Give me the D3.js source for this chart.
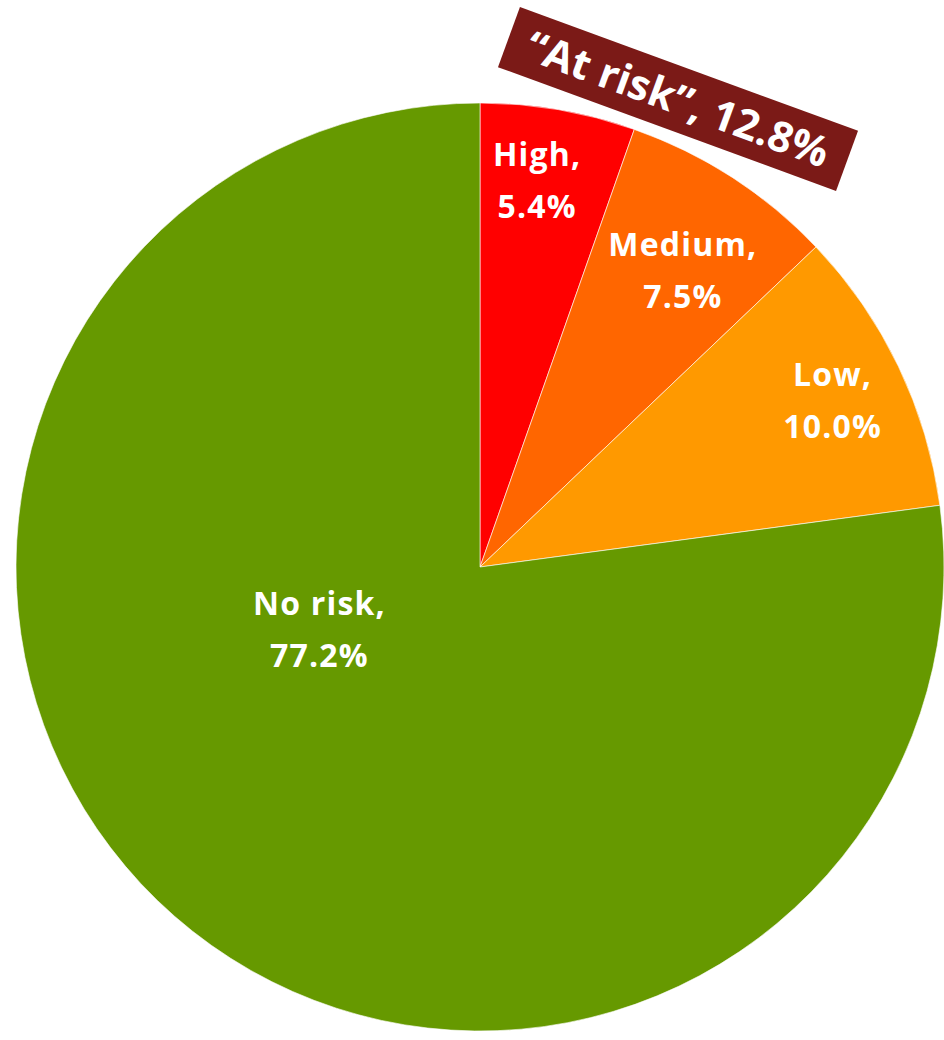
<!DOCTYPE html>
<html>
<head>
  <meta charset="utf-8">
  <title>Risk pie</title>
  <script src="https://cdn.jsdelivr.net/npm/d3@7"></script>
  <style>
    html, body { margin: 0; padding: 0; background: #fff; }
    svg text { font-family: "Open Sans", sans-serif; fill: #fff; }
  </style>
</head>
<body>
  <div id="chart"></div>
  <script>
    // data
    const categories = ["High", "Medium", "Low", "No risk"];
    const values = [5.4, 7.5, 10.0, 77.2];
    const colors = ["#ff0000", "#ff6600", "#ff9900", "#669900"];
    const calloutText = "\u201cAt risk\u201d, 12.8%";

    // label placement (radius px, angle deg clockwise from 12 o'clock)
    const labelPolar = [[391, 8.4], [360, 34.3], [390, 64.7], [172, 249]];

    const width = 944, height = 1040;
    const cx = 480, cy = 567, radius = 464;

    const svg = d3.select("#chart").append("svg")
        .attr("width", width)
        .attr("height", height);

    const pie = d3.pie().sort(null).value(d => d.v);
    const arcs = pie(categories.map((c, i) => ({ name: c, v: values[i], color: colors[i] })));
    const arc = d3.arc().innerRadius(0).outerRadius(radius);

    const g = svg.append("g").attr("transform", `translate(${cx},${cy})`);

    g.selectAll("path")
        .data(arcs)
        .enter().append("path")
        .attr("d", arc)
        .attr("fill", d => d.data.color)
        .attr("stroke", "#fff")
        .attr("stroke-opacity", 0.6)
        .attr("stroke-width", 1);

    // slice labels, two lines
    const lbl = g.selectAll(".lbl")
        .data(arcs)
        .enter().append("text")
        .attr("class", "lbl")
        .attr("text-anchor", "middle")
        .attr("font-size", 32)
        .attr("font-weight", 700)
        .attr("letter-spacing", 1.2)
        .attr("transform", (d, i) => {
          const [r, a] = labelPolar[i];
          const t = a * Math.PI / 180;
          return `translate(${r * Math.sin(t)},${-r * Math.cos(t)})`;
        });
    lbl.append("tspan").attr("x", 0).attr("y", -14).text(d => d.data.name + ",");
    lbl.append("tspan").attr("x", 0).attr("y", 38).text(d => d3.format(".1f")(d.data.v) + "%");

    // "At risk" callout box
    const box = svg.append("g").attr("transform", "translate(678,99) rotate(20.1)");
    box.append("rect")
        .attr("x", -180).attr("y", -32)
        .attr("width", 360).attr("height", 64)
        .attr("fill", "#7b1a17");
    box.append("text")
        .attr("text-anchor", "middle")
        .attr("y", 15)
        .attr("font-size", 42)
        .attr("font-weight", 700)
        .text(calloutText);
  </script>
</body>
</html>
